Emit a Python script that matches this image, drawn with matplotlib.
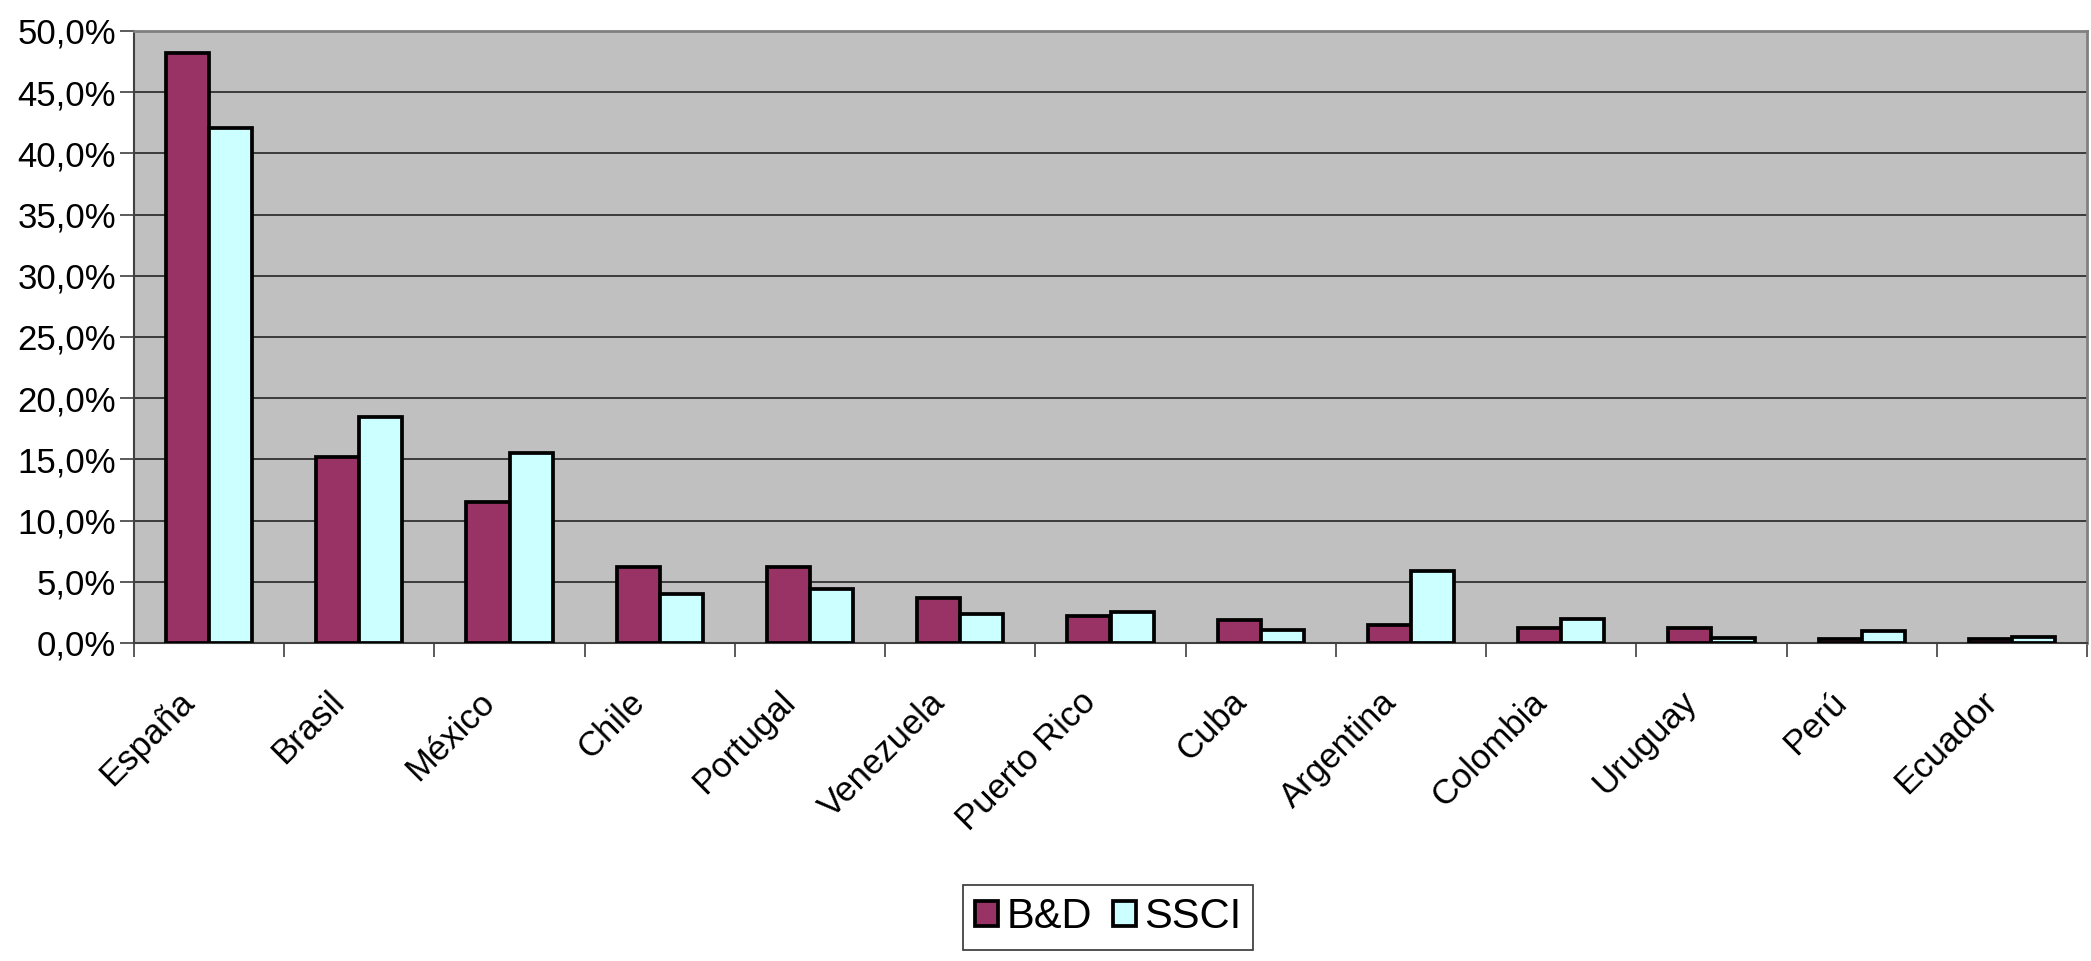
import numpy as np
import matplotlib.pyplot as plt
from matplotlib.transforms import ScaledTranslation
from matplotlib.ticker import FuncFormatter, FixedLocator

plt.rcParams['font.family'] = ['Liberation Sans', 'DejaVu Sans']

# ------------------------------------------------------------------
# Data (share of output, %)
# ------------------------------------------------------------------
countries = ["España", "Brasil", "México", "Chile", "Portugal", "Venezuela",
             "Puerto Rico", "Cuba", "Argentina", "Colombia", "Uruguay",
             "Perú", "Ecuador"]
bd = [48.2, 15.2, 11.5, 6.2, 6.2, 3.7, 2.2, 1.9, 1.5, 1.25, 1.25, 0.3, 0.3]
ssci = [42.1, 18.5, 15.5, 4.0, 4.4, 2.4, 2.5, 1.1, 5.9, 2.0, 0.4, 0.95, 0.5]
series_names = ["B&D", "SSCI"]

W, H, DPI = 2091, 961, 100
fig = plt.figure(figsize=(W / DPI, H / DPI), dpi=DPI)
ax = fig.add_axes([134 / W, (H - 643) / H, (2087 - 134) / W, (643 - 31) / H])

ax.set_facecolor("#C0C0C0")
x = np.arange(len(countries))
w = 0.287
ax.bar(x - w / 2, bd, w, color="#993366", edgecolor="black", linewidth=2.7,
       label=series_names[0], zorder=3)
ax.bar(x + w / 2, ssci, w, color="#CCFFFF", edgecolor="black", linewidth=2.7,
       label=series_names[1], zorder=3)

ax.set_xlim(-0.5, len(countries) - 0.5)
ax.set_ylim(0, 50)
ax.set_yticks(np.arange(0, 50.1, 5))
ax.yaxis.set_major_formatter(FuncFormatter(lambda v, p: f"{v:.1f}%".replace(".", ",")))
ax.grid(axis="y", color="#303030", linewidth=1.3, zorder=1)

# ticks at category boundaries, labels at centres
ax.xaxis.set_major_locator(FixedLocator(np.arange(-0.5, len(countries), 1.0)))
ax.xaxis.set_major_formatter(FuncFormatter(lambda v, p: ""))
ax.set_xticks(x, minor=True)
ax.set_xticklabels(countries, minor=True, rotation=45, ha="right", va="center",
                   rotation_mode="anchor", fontsize=25)
ax.tick_params(axis="x", which="minor", length=0, pad=0)
ax.tick_params(axis="x", which="major", length=10, width=1.2, color="#404040")
ax.tick_params(axis="y", length=10, width=1.2, color="#404040", labelsize=25, pad=3)
offset = ScaledTranslation(-20 / DPI, -54 / DPI, fig.dpi_scale_trans)
for lbl in ax.xaxis.get_minorticklabels():
    lbl.set_transform(lbl.get_transform() + offset)

for side in ["left", "bottom"]:
    ax.spines[side].set_color("#404040")
    ax.spines[side].set_linewidth(1.5)
for side in ["top", "right"]:
    ax.spines[side].set_color("#808080")
    ax.spines[side].set_linewidth(2)

leg = fig.legend(loc="center", bbox_to_anchor=(1108 / W, 1 - 917 / H), ncol=2,
                 fontsize=30, frameon=True, fancybox=False, edgecolor="black",
                 handlelength=0.55, handleheight=0.55, handletextpad=0.2,
                 columnspacing=0.5, borderpad=0.3, borderaxespad=0)
leg.get_frame().set_linewidth(1.2)
for patch in leg.get_patches():
    patch.set_linewidth(2.7)

fig.savefig("out.png", dpi=DPI)
